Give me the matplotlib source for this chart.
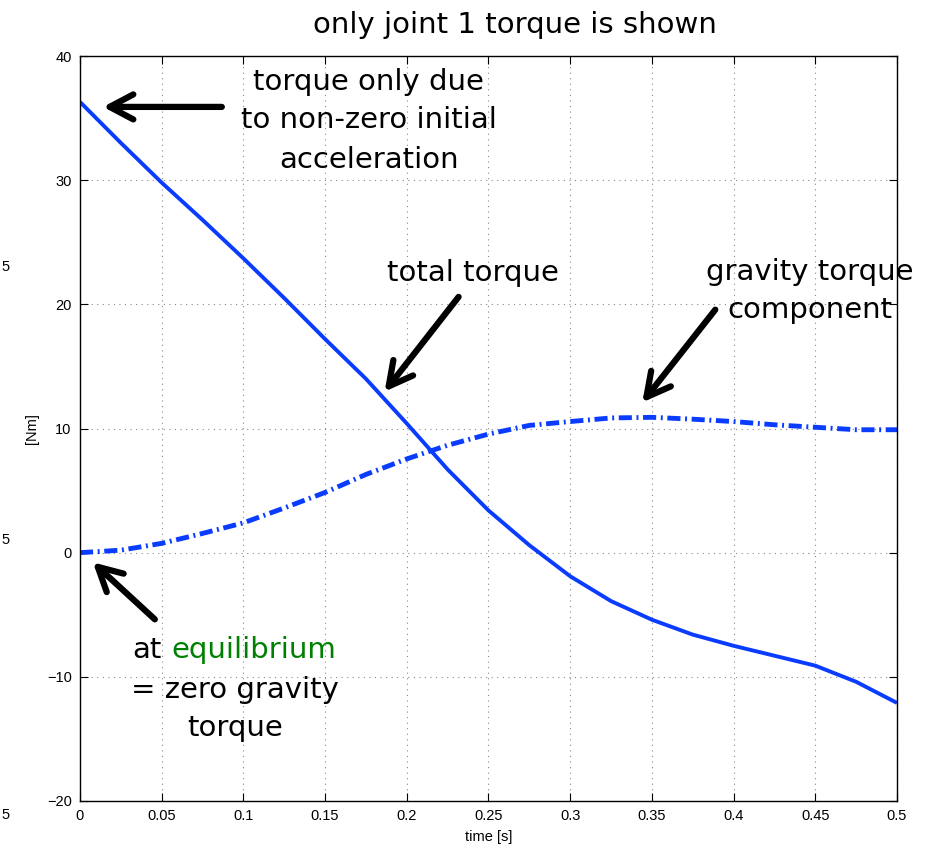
import matplotlib
matplotlib.use("Agg")
import matplotlib.pyplot as plt

# time samples [s] and joint 1 torque [Nm]
time_s = [0.0, 0.025, 0.05, 0.075, 0.1, 0.125, 0.15, 0.175, 0.2, 0.225, 0.25,
          0.275, 0.3, 0.325, 0.35, 0.375, 0.4, 0.425, 0.45, 0.475, 0.5]
total_torque = [36.3, 33.0, 29.8, 26.8, 23.7, 20.5, 17.2, 14.0, 10.4, 6.7, 3.4,
                0.6, -1.9, -3.9, -5.4, -6.6, -7.5, -8.3, -9.1, -10.4, -12.1]
gravity_torque = [0.0, 0.2, 0.75, 1.55, 2.4, 3.6, 4.85, 6.3, 7.55, 8.65, 9.55,
                  10.25, 10.56, 10.85, 10.9, 10.75, 10.56, 10.3, 10.1, 9.9, 9.9]

x_ticks = [0, 0.05, 0.1, 0.15, 0.2, 0.25, 0.3, 0.35, 0.4, 0.45, 0.5]
x_ticklabels = ['0', '0.05', '0.1', '0.15', '0.2', '0.25', '0.3', '0.35', '0.4', '0.45', '0.5']
y_ticks = [-20, -10, 0, 10, 20, 30, 40]
y_ticklabels = ['\u221220', '\u221210', '0', '10', '20', '30', '40']

W, H = 929, 849
tick_font = ['Liberation Sans Narrow', 'Liberation Sans', 'DejaVu Sans']
note_font = 'DejaVu Sans'
blue = '#0a3cff'

fig = plt.figure(figsize=(W / 100, H / 100), dpi=100)
ax = fig.add_axes([80 / W, 1 - 801 / H, 817 / W, 745 / H])

# curves
ax.plot(time_s, total_torque, color=blue, lw=2.8, solid_capstyle='butt')
ax.plot(time_s, gravity_torque, color=blue, lw=3.5, dashes=(2.7, 0.95, 0.4, 0.95))

ax.set_xlim(0, 0.5)
ax.set_ylim(-20, 40)
ax.set_xticks(x_ticks)
ax.set_xticklabels(x_ticklabels, family=tick_font, fontsize=10.5)
ax.set_yticks(y_ticks)
ax.set_yticklabels(y_ticklabels, family=tick_font, fontsize=10.5)
ax.tick_params(direction='in', length=5.5, width=0.8, top=True, right=True, pad=6)
ax.grid(True, linestyle=(0, (1, 4)), color='#888888', lw=0.8)
for sp in ax.spines.values():
    sp.set_linewidth(1.0)

ax.set_xlabel('time [s]', family=tick_font, fontsize=10.5)
ax.xaxis.set_label_coords(0.5, -0.039)
ax.set_ylabel('[Nm]', family=tick_font, fontsize=10.5)
ax.yaxis.set_label_coords(-0.05, 0.5)

# title
fig.text(515 / W, 1 - 33 / H, 'only joint 1 torque is shown', family=note_font,
         fontsize=21, ha='center', va='baseline')

# stray tick labels from a neighbouring plot at the left edge
for yp in [267, 540, 815]:
    fig.text(1 / W, 1 - yp / H, '5', family=tick_font, fontsize=10.5, ha='left', va='center')


def arrow(tail, head):
    ax.annotate('', xy=head, xytext=tail, annotation_clip=False,
                arrowprops=dict(arrowstyle='->,head_length=0.85,head_width=0.45',
                                lw=4.5, color='black', mutation_scale=20,
                                shrinkA=0, shrinkB=0))


def note(t, v, s, color='black', ha='center'):
    ax.text(t, v, s, family=note_font, fontsize=21, color=color, ha=ha, va='baseline')


# torque due to initial acceleration
note(0.1767, 37.3, 'torque only due')
note(0.1767, 34.2, 'to non-zero initial')
note(0.1767, 31.0, 'acceleration')
arrow((0.0868, 35.9), (0.0141, 35.9))

# total torque
note(0.2402, 21.9, 'total torque')
arrow((0.2317, 20.6), (0.1864, 12.97))

# gravity component
note(0.4468, 22.0, 'gravity torque')
note(0.4468, 18.9, 'component')
arrow((0.3888, 19.57), (0.3441, 12.1))

# equilibrium
note(0.0318, -8.45, 'at', ha='left')
note(0.0560, -8.45, 'equilibrium', color='#008000', ha='left')
note(0.0948, -11.67, '= zero gravity')
note(0.0948, -14.8, 'torque')
arrow((0.0458, -5.37), (0.0079, -0.78))

fig.savefig('out.png', dpi=100)
